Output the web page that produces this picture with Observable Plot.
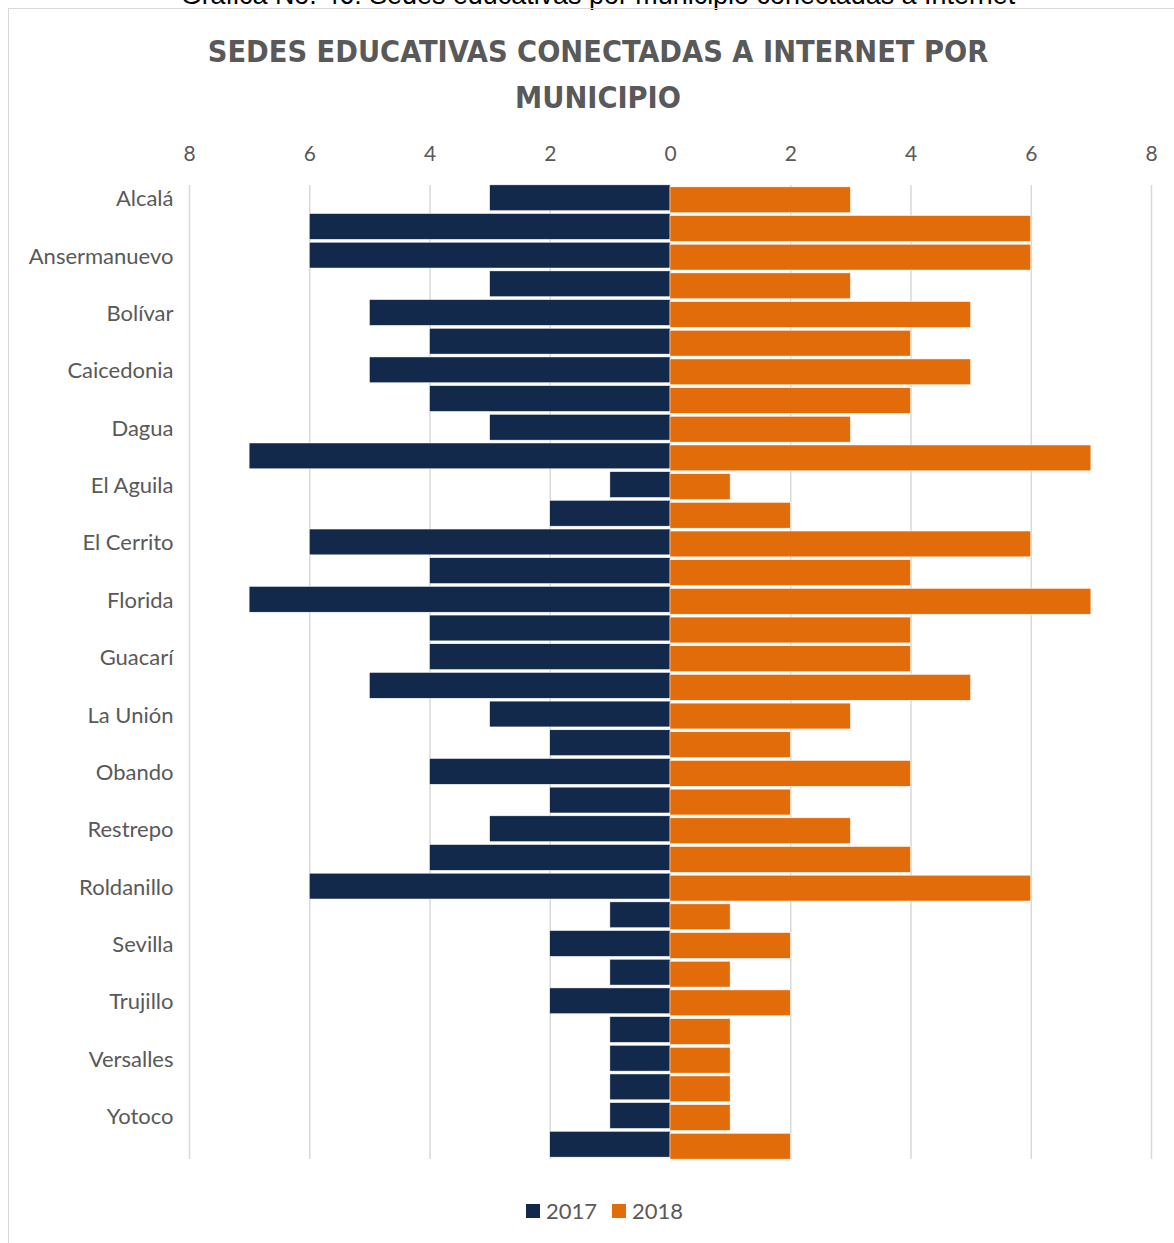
<!DOCTYPE html>
<html>
<head>
<meta charset="utf-8">
<script src="https://cdn.jsdelivr.net/npm/d3@7"></script>
<script src="https://cdn.jsdelivr.net/npm/@observablehq/plot@0.6"></script>
<style>
  body { margin: 0; background: #fff; font-family: Lato, "Open Sans", sans-serif; }
  #wrap { position: relative; width: 1174px; height: 1243px; overflow: hidden; background: #fff; }
  #caption { position: absolute; left: 0; width: 1196px; top: -14px; text-align: center;
             font-family: "Liberation Sans", Arial, sans-serif; color: #000; white-space: nowrap; }
  #frame { position: absolute; left: 8px; top: 8px; width: 1200px; height: 1300px;
           border: 1.5px solid #d9d9d9; box-sizing: border-box; }
  .tline { position: absolute; left: 0; width: 1196px; text-align: center; font-weight: bold;
           color: #595959; white-space: nowrap; font-family: "Liberation Sans Narrow", "DejaVu Sans Condensed", Lato, sans-serif; }
  #chart { position: absolute; left: 0; top: 130px; }
  #legend { position: absolute; left: 526px; top: 1197px; display: flex; align-items: center;
            font-family: Lato, sans-serif; font-size: 22px; color: #595959; }
  .sw { width: 14px; height: 14px; display: inline-block; margin-right: 6px; }
</style>
</head>
<body>
<div id="wrap">
  <div id="caption">Gráfica No. 46: Sedes educativas por municipio conectadas a Internet</div>
  <div id="frame"></div>
  <div class="tline" id="t1">SEDES EDUCATIVAS CONECTADAS A INTERNET POR</div>
  <div class="tline" id="t2">MUNICIPIO</div>
  <div id="chart"></div>
  <div id="legend">
    <span class="sw" style="background:#13294B"></span><span>2017</span>
    <span class="sw" style="background:#E36C0A;margin-left:15px"></span><span>2018</span>
  </div>
</div>
<script>
// ---- data ----
const municipios = [
  "Alcalá", "Andalucía", "Ansermanuevo", "Argelia", "Bolívar", "Bugalagrande",
  "Caicedonia", "Cartago", "Dagua", "Darién", "El Aguila", "El Cairo",
  "El Cerrito", "El Dovio", "Florida", "Ginebra", "Guacarí", "La Cumbre",
  "La Unión", "La Victoria", "Obando", "Pradera", "Restrepo", "Riofrío",
  "Roldanillo", "San Pedro", "Sevilla", "Toro", "Trujillo", "Ulloa",
  "Versalles", "Vijes", "Yotoco", "Zarzal"
];
const sedes2017 = [3, 6, 6, 3, 5, 4, 5, 4, 3, 7, 1, 2, 6, 4, 7, 4, 4, 5, 3, 2, 4, 2, 3, 4, 6, 1, 2, 1, 2, 1, 1, 1, 1, 2];
const sedes2018 = [3, 6, 6, 3, 5, 4, 5, 4, 3, 7, 1, 2, 6, 4, 7, 4, 4, 5, 3, 2, 4, 2, 3, 4, 6, 1, 2, 1, 2, 1, 1, 1, 1, 2];
const xTicks = [-8, -6, -4, -2, 0, 2, 4, 6, 8];
const colors = {"2017": "#13294B", "2018": "#E36C0A"};

const rows = municipios.map((m, i) => ({municipio: m, v2017: sedes2017[i], v2018: sedes2018[i]}));
const shown = municipios.filter((d, i) => i % 2 === 0);

// ---- fit text widths ----
function fit(el, targetWidth, startSize) {
  const cs = getComputedStyle(el);
  const c = document.createElement("canvas").getContext("2d");
  c.font = `${cs.fontWeight} ${startSize}px ${cs.fontFamily}`;
  const w = c.measureText(el.textContent).width;
  const size = startSize * targetWidth / w;
  el.style.fontSize = size + "px";
  return size;
}
const s1 = fit(document.getElementById("t1"), 781, 32);
const t1 = document.getElementById("t1"), t2 = document.getElementById("t2");
t2.style.fontSize = s1 + "px";
t1.style.lineHeight = t2.style.lineHeight = "1";
t1.style.top = (64 - s1 * 0.88) + "px";
t2.style.top = (110 - s1 * 0.88) + "px";
const cap = document.getElementById("caption");
fit(cap, 835, 20);
cap.style.lineHeight = "1";
cap.style.top = (6 - parseFloat(cap.style.fontSize) * 0.88) + "px";

// ---- chart ----
const chart = Plot.plot({
  width: 1174,
  height: 1060,
  marginLeft: 189,
  marginRight: 23,
  marginTop: 55,
  marginBottom: 31,
  style: {fontFamily: "Lato, sans-serif", fontSize: "21px", color: "#595959", background: "transparent"},
  x: {domain: [-8, 8], ticks: xTicks, tickFormat: d => Math.abs(d)},
  y: {domain: municipios, paddingInner: 0.1, paddingOuter: 0.03, round: false},
  marks: [
    Plot.gridX(xTicks, {stroke: "#d9d9d9", strokeOpacity: 1, strokeWidth: 1.5}),
    Plot.barX(rows, {y: "municipio", x1: d => -d.v2017, x2: 0, fill: colors["2017"], dy: -1, stroke: "#ffffff", strokeWidth: 0.5}),
    Plot.barX(rows, {y: "municipio", x1: 0, x2: "v2018", fill: colors["2018"], dy: 1, stroke: "#ffffff", strokeWidth: 0.5}),
    Plot.axisX({anchor: "top", ticks: xTicks, tickSize: 0, tickPadding: 25, label: null, tickFormat: d => Math.abs(d), fill: "#595959"}),
    Plot.axisY({ticks: shown, tickSize: 0, tickPadding: 16, label: null, fill: "#595959", fontSize: 22})
  ]
});
document.getElementById("chart").appendChild(chart);
</script>
</body>
</html>
